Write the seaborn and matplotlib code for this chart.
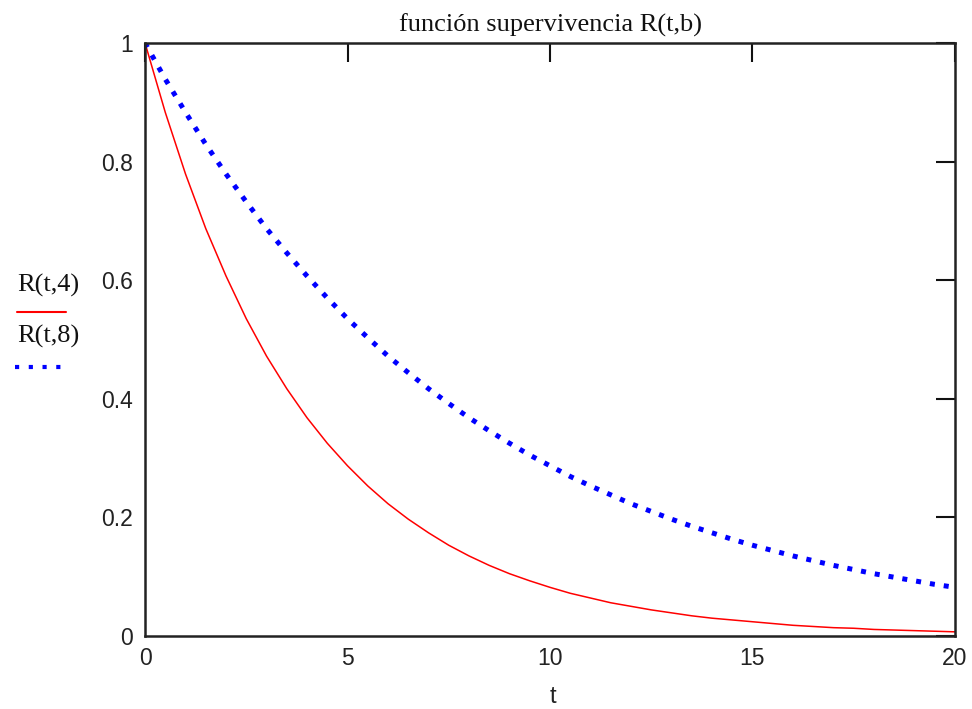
import matplotlib
matplotlib.use("Agg")
import matplotlib.pyplot as plt
from matplotlib.lines import Line2D
import numpy as np
import pandas as pd
import seaborn as sns

# Data (t step 0.5)
t_vals = [0.0, 0.5, 1.0, 1.5, 2.0, 2.5, 3.0, 3.5, 4.0, 4.5, 5.0, 5.5, 6.0, 6.5, 7.0,
          7.5, 8.0, 8.5, 9.0, 9.5, 10.0, 10.5, 11.0, 11.5, 12.0, 12.5, 13.0, 13.5,
          14.0, 14.5, 15.0, 15.5, 16.0, 16.5, 17.0, 17.5, 18.0, 18.5, 19.0, 19.5, 20.0]
r_b4 = [1.000, 0.883, 0.779, 0.687, 0.607, 0.535, 0.472, 0.417, 0.368, 0.325, 0.287,
        0.253, 0.223, 0.197, 0.174, 0.153, 0.135, 0.119, 0.105, 0.093, 0.082, 0.072,
        0.064, 0.056, 0.050, 0.044, 0.039, 0.034, 0.030, 0.027, 0.024, 0.021, 0.018,
        0.016, 0.014, 0.013, 0.011, 0.010, 0.009, 0.008, 0.007]
r_b8 = [1.000, 0.939, 0.883, 0.829, 0.779, 0.732, 0.687, 0.646, 0.607, 0.570, 0.535,
        0.503, 0.472, 0.444, 0.417, 0.392, 0.368, 0.346, 0.325, 0.305, 0.287, 0.269,
        0.253, 0.238, 0.223, 0.210, 0.197, 0.185, 0.174, 0.163, 0.153, 0.144, 0.135,
        0.127, 0.119, 0.112, 0.105, 0.099, 0.093, 0.087, 0.082]
x_ticks = [0, 5, 10, 15, 20]
y_ticks = [0, 0.2, 0.4, 0.6, 0.8, 1]
y_tick_labels = ["0", "0.2", "0.4", "0.6", "0.8", "1"]
title = "función supervivencia R(t,b)"
label_b4 = "R(t,4)"
label_b8 = "R(t,8)"
x_label = "t"

sns.set_style("white")
sans = ["Liberation Sans", "DejaVu Sans"]
serif = ["Liberation Serif", "DejaVu Serif"]
plt.rcParams["font.family"] = sans

df = pd.DataFrame({"t": t_vals, "R4": r_b4, "R8": r_b8})

fig = plt.figure(figsize=(9.72, 7.09), dpi=100)
ax = fig.add_axes([0.1492, 0.1030, 0.8333, 0.8364])

sns.lineplot(data=df, x="t", y="R4", ax=ax, color="#ff0000", linewidth=1.1)
sns.lineplot(data=df, x="t", y="R8", ax=ax, color="#0000ff", linewidth=3.6,
             linestyle=(0, (1, 1.8)))
ax.lines[-1].set_dash_capstyle("butt")

ax.set_xlim(0, 20)
ax.set_ylim(0, 1)
ax.set_xticks(x_ticks)
ax.set_xticklabels([str(v) for v in x_ticks])
ax.set_yticks(y_ticks)
ax.set_yticklabels(y_tick_labels)
ax.set_xlabel("")
ax.set_ylabel("")

for s in ax.spines.values():
    s.set_visible(True)
    s.set_color("#222222")
    s.set_linewidth(1.8)

ax.tick_params(axis="both", which="both", direction="in", length=14, width=1.5,
               color="#111111", top=True, right=True, labelsize=16.5,
               labelcolor="#222222")
ax.tick_params(axis="y", pad=9)
ax.tick_params(axis="x", pad=8)

ax.set_title(title, fontsize=19, family=serif, pad=8, color="#111111")
fig.text(0.569, 0.017, x_label, fontsize=17, ha="center", va="center",
         color="#222222")

# Left-side legend, Mathcad style
fig.text(0.018, 0.597, label_b4, fontsize=19, family=serif, color="#111111",
         ha="left", va="center")
fig.add_artist(Line2D([0.017, 0.068], [0.560, 0.560], transform=fig.transFigure,
                      color="#ff0000", linewidth=1.5))
fig.text(0.018, 0.526, label_b8, fontsize=19, family=serif, color="#111111",
         ha="left", va="center")
fig.add_artist(Line2D([0.015, 0.070], [0.482, 0.482], transform=fig.transFigure,
                      color="#0000ff", linewidth=3.0, linestyle=(0, (1, 2.3)),
                      dash_capstyle="butt"))

fig.savefig("out.png", dpi=100)
